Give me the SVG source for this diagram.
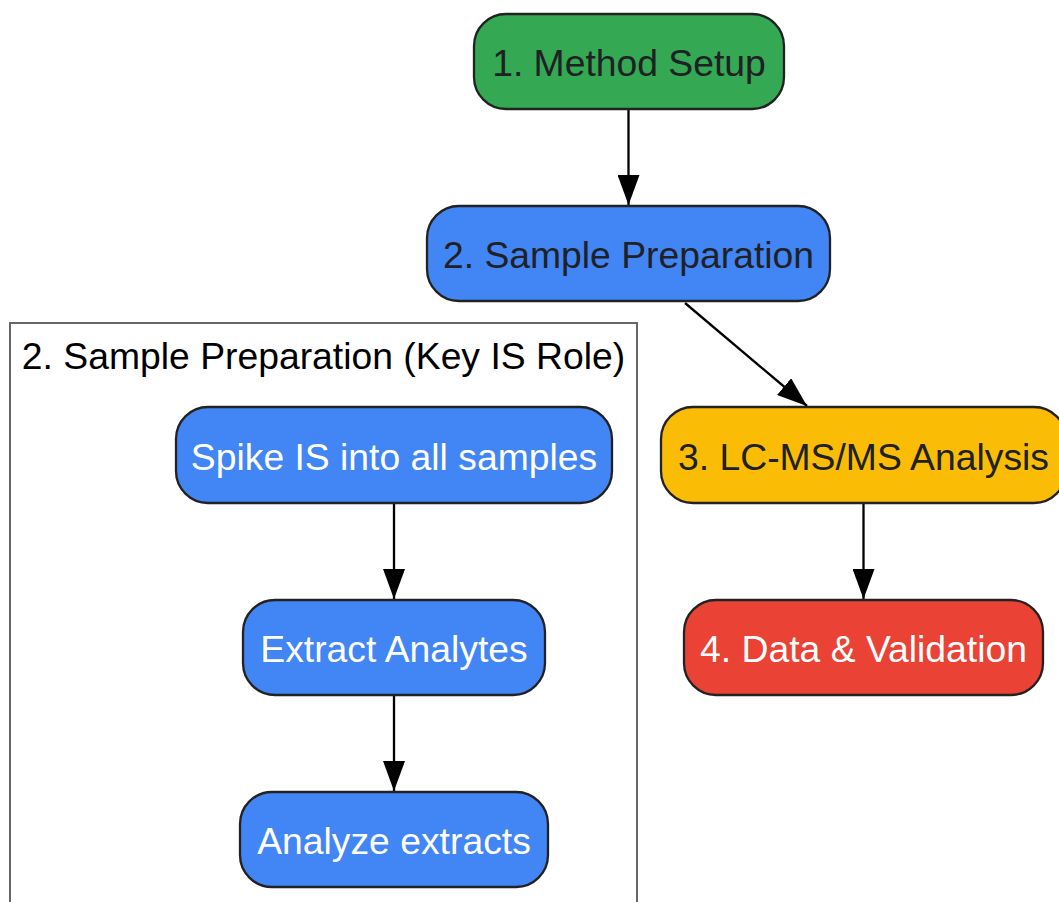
<svg xmlns="http://www.w3.org/2000/svg" width="1059" height="902" viewBox="0 0 1059 902">
<defs>
<style>
.node rect{stroke:#222222;stroke-width:2.3}
.lbl{font-family:"Liberation Sans",Arial,sans-serif;font-size:37.3px;text-anchor:middle}
.dark{fill:#202124}
.light{fill:#ffffff}
.edge{stroke:#000000;stroke-width:2.3;fill:none}
</style>
<marker id="arr" viewBox="0 0 30 22" refX="30" refY="11" markerWidth="30" markerHeight="22" markerUnits="userSpaceOnUse" orient="auto">
<path d="M0,0 L30,11 L0,22 Z" fill="#000000"/>
</marker>
</defs>
<rect width="1059" height="902" fill="#ffffff"/>
<g id="cluster-prep">
<rect x="10" y="323" width="627" height="600" fill="#ffffff" stroke="#666666" stroke-width="2"/>
<text class="lbl" x="323.5" y="369" fill="#000000">2. Sample Preparation (Key IS Role)</text>
</g>
<g id="edges">
<line class="edge" x1="628.5" y1="110" x2="628.5" y2="205" marker-end="url(#arr)"/>
<line class="edge" x1="685" y1="303" x2="807" y2="406" marker-end="url(#arr)"/>
<line class="edge" x1="863.5" y1="504" x2="863.5" y2="599" marker-end="url(#arr)"/>
<line class="edge" x1="394" y1="504" x2="394" y2="599" marker-end="url(#arr)"/>
<line class="edge" x1="394" y1="696" x2="394" y2="791" marker-end="url(#arr)"/>
</g>
<g id="n1" class="node">
<rect x="474" y="14" width="310" height="95" rx="32" ry="32" fill="#34A853"/>
<text class="lbl dark" x="629" y="76">1. Method Setup</text>
</g>
<g id="n2" class="node">
<rect x="427" y="206" width="403" height="95" rx="32" ry="32" fill="#4285F4"/>
<text class="lbl dark" x="628.5" y="268">2. Sample Preparation</text>
</g>
<g id="n3" class="node">
<rect x="661" y="407" width="405" height="96" rx="32" ry="32" fill="#FBBC05"/>
<text class="lbl dark" x="863.5" y="470">3. LC-MS/MS Analysis</text>
</g>
<g id="n4" class="node">
<rect x="684" y="600" width="359" height="95" rx="32" ry="32" fill="#EA4335"/>
<text class="lbl light" x="863.5" y="662">4. Data &amp; Validation</text>
</g>
<g id="s1" class="node">
<rect x="176" y="407" width="436" height="96" rx="32" ry="32" fill="#4285F4"/>
<text class="lbl light" x="394" y="470">Spike IS into all samples</text>
</g>
<g id="s2" class="node">
<rect x="243" y="600" width="302" height="95" rx="32" ry="32" fill="#4285F4"/>
<text class="lbl light" x="394" y="662">Extract Analytes</text>
</g>
<g id="s3" class="node">
<rect x="240" y="792" width="308" height="95" rx="32" ry="32" fill="#4285F4"/>
<text class="lbl light" x="394" y="854">Analyze extracts</text>
</g>
</svg>
